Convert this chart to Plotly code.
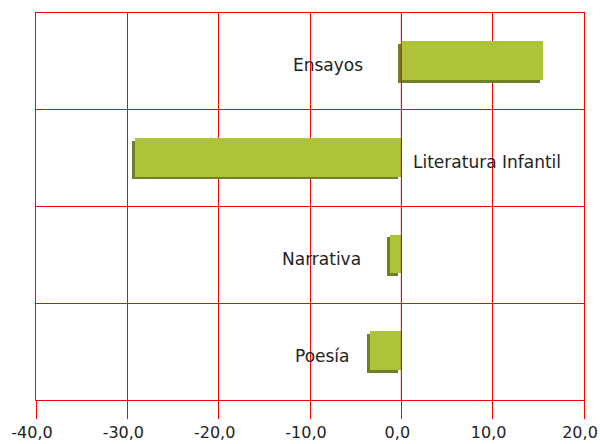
import plotly.graph_objects as go

# Categories, listed top to bottom, and their values
categories = ["Ensayos", "Literatura Infantil", "Narrativa", "Poesía"]
values = [15.5, -29.2, -1.2, -3.4]

# X axis ticks
tick_values = [-40, -30, -20, -10, 0, 10, 20]
tick_labels = ["-40,0", "-30,0", "-20,0", "-10,0", "0,0", "10,0", "20,0"]

FACE = "#AEC33A"
SIDE = "#6E8022"
GRID = "#FF0000"
FONT = "DejaVu Sans"

# Depth of the pseudo-3D side, in axis units
depth_x = 0.33
depth_y = 0.03
bar_w = 0.40

fig = go.Figure()

# Darker side/bottom of each bar, shifted left and down
fig.add_trace(go.Bar(
    y=categories, x=values, base=[-depth_x] * len(values),
    orientation="h", width=bar_w, offset=-0.19 - depth_y,
    marker=dict(color=SIDE, line=dict(width=0)),
    hoverinfo="skip", showlegend=False,
))
# Front face
fig.add_trace(go.Bar(
    y=categories, x=values, base=[0] * len(values),
    orientation="h", width=bar_w, offset=-0.19,
    marker=dict(color=FACE, line=dict(width=0)),
    showlegend=False,
))

# Category labels next to the bars
label_anchor = {
    "Ensayos": (0, "right", -36),
    "Literatura Infantil": (0, "left", 10),
    "Narrativa": (None, "right", -27),
    "Poesía": (None, "right", -18),
}
for cat, val in zip(categories, values):
    ax, anchor, shift = label_anchor[cat]
    xpos = val if ax is None else ax
    fig.add_annotation(
        x=xpos, y=cat, text=cat, showarrow=False,
        xanchor=anchor, yanchor="middle", xshift=shift, yshift=-4,
        font=dict(family=FONT, size=17, color="#222222"),
    )

# Zero line drawn above the bars
fig.add_shape(type="line", x0=0, x1=0, y0=0, y1=1, xref="x", yref="paper",
              line=dict(color=GRID, width=1), layer="above")

fig.update_xaxes(
    range=[-40, 20], tickvals=tick_values, ticktext=tick_labels,
    showgrid=True, gridcolor=GRID, gridwidth=1, zeroline=False,
    showline=True, linecolor=GRID, linewidth=1, mirror=True,
    ticks="outside", ticklen=18, tickcolor=GRID, tickwidth=1,
    tickfont=dict(family=FONT, size=16, color="#222222"),
    ticklabelshift=-4,
    automargin=False, ticklabeloverflow="allow",
)
fig.update_yaxes(
    type="category", categoryorder="array", categoryarray=categories[::-1],
    range=[-0.5, 3.5], tickson="boundaries", showticklabels=False,
    showgrid=True, gridcolor=GRID, gridwidth=1, zeroline=False,
    showline=True, linecolor=GRID, linewidth=1, mirror=True, ticks="",
    automargin=False,
)

fig.update_layout(
    width=600, height=444,
    margin=dict(l=36, r=16, t=13, b=44),
    paper_bgcolor="white", plot_bgcolor="white",
    barmode="overlay", bargap=0,
)

fig.write_html("out.html")
